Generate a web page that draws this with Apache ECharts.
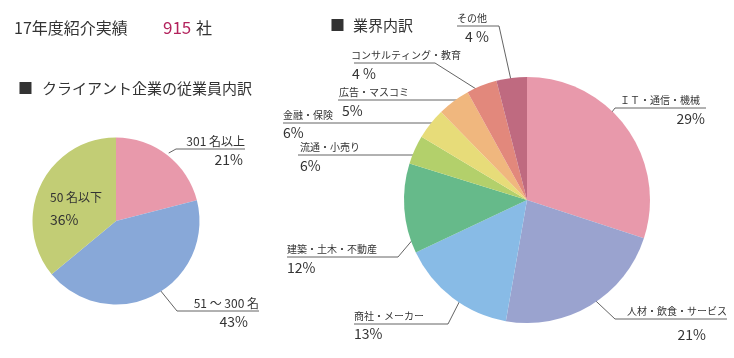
<!DOCTYPE html>
<html><head><meta charset="utf-8">
<script src="https://cdn.jsdelivr.net/npm/echarts@6/dist/echarts.min.js"></script>
<style>html,body{margin:0;padding:0;background:#fff}#c{width:734px;height:358px}</style>
</head><body><div id="c"></div>
<script>
// ---- data ----
const sizeCategories = ['301 名以上', '51 〜 300 名', '50 名以下'];
const sizeValues = [21, 43, 36];
const sizePctText = ['21%', '43%', '36%'];

const industryCategories = ['ＩＴ・通信・機械', '人材・飲食・サービス', '商社・メーカー', '建築・土木・不動産',
  '流通・小売り', '金融・保険', '広告・マスコミ', 'コンサルティング・教育', 'その他'];
const industryValues = [30.0, 22.7, 15.2, 11.8, 3.8, 4.1, 4.3, 4.0, 4.0];
const industryPctText = ['29%', '21%', '13%', '12%', '6%', '6%', '5%', '4 %', '4 %'];

const totalLabel = '17年度紹介実績';
const totalValue = '915';
const totalUnit = '社';
const sizeTitle = 'クライアント企業の従業員内訳';
const industryTitle = '業界内訳';

// ---- styles / layout ----
const FONT = '"Noto Sans CJK JP", "Noto Sans", sans-serif';
const TXT = '#333333';
const sizeColors = ['#E899AB', '#88A8D8', '#C2CD75'];
const industryColors = ['#E899AB', '#9AA3CF', '#88BBE6', '#66BA8A', '#B3D06B', '#E7DC79', '#F0B77E', '#E2887C', '#BF6A80'];
const sizeCenter = [116, 221], sizeRadius = 83.5;
const indCenter = [527, 200], indRadius = 123;
const NAME_LH = 15;

// ax: anchor x, uy: underline y, near/far: underline ends, k: leader start (fraction of radius), nameDx/pctDx: inset, pctDy: pct center below underline
const sizeLayout = [
  {ax: 245, uy: 149, align: 'right', near: 176, far: 245, k: 1.03, nameDx: 0, pctDx: 2, pctDy: 11},
  {ax: 259, uy: 311, align: 'right', near: 177, far: 259, k: 0.53, nameDx: 0, pctDx: 11, pctDy: 11},
  {ax: 50, uy: 204.5, align: 'left', near: null, k: null, nameDx: 0, pctDx: 0, pctDy: 15.5}
];
const indLayout = [
  {ax: 706, uy: 108, align: 'right', near: 615, far: 706, k: 0.41, nameDx: 6, pctDx: 1, pctDy: 10.5},
  {ax: 727, uy: 319, align: 'right', near: 615, far: 727, k: 0.79, nameDx: 0, pctDx: 21, pctDy: 16},
  {ax: 354, uy: 324, align: 'left', near: 448, far: 354, k: 0.64, nameDx: 0, pctDx: 0, pctDy: 10},
  {ax: 287, uy: 257, align: 'left', near: 398, far: 287, k: 0.70, nameDx: 0, pctDx: 0, pctDy: 11},
  {ax: 299, uy: 155, align: 'left', near: 433, far: 298, k: null, nameDx: 1, pctDx: 1, pctDy: 11},
  {ax: 283, uy: 123, align: 'left', near: 436, far: 283, k: null, nameDx: 0, pctDx: 0, pctDy: 10},
  {ax: 338, uy: 100, align: 'left', near: 461, far: 338, k: null, nameDx: 1, pctDx: 4, pctDy: 10.5},
  {ax: 351, uy: 63, align: 'left', near: 435, far: 354, k: 0.92, nameDx: 0, pctDx: 1, pctDy: 11},
  {ax: 457, uy: 26, align: 'left', near: 499, far: 457, k: 0.91, nameDx: 0, pctDx: 8, pctDy: 10.5}
];

function pad(align, dx) { return align === 'right' ? [0, dx, 0, 0] : [0, 0, 0, dx]; }
function buildRich(layouts, nameSize, pctSize) {
  const rich = {};
  layouts.forEach((L, i) => {
    rich['n' + i] = {fontSize: nameSize, lineHeight: NAME_LH, color: TXT, fontFamily: FONT, padding: pad(L.align, L.nameDx)};
    rich['p' + i] = {fontSize: pctSize, lineHeight: L.pctDy * 2, color: TXT, fontFamily: FONT, padding: pad(L.align, L.pctDx)};
  });
  return rich;
}
function makeLabelLayout(layouts, center) {
  return function (params) {
    const L = layouts[params.dataIndex];
    const res = {x: L.ax, y: L.uy - NAME_LH, align: L.align, verticalAlign: 'top'};
    if (L.near != null) {
      const pts = [];
      const lp = params.labelLinePoints;
      if (L.k != null && lp && lp[0]) {
        pts.push([center[0] + (lp[0][0] - center[0]) * L.k, center[1] + (lp[0][1] - center[1]) * L.k]);
      }
      pts.push([L.near, L.uy]);
      pts.push([L.far, L.uy]);
      res.labelLinePoints = pts;
    }
    return res;
  };
}
function pieSeries(cats, vals, pcts, colors, layouts, center, radius, nameSize, noLine) {
  return {
    type: 'pie', center: center, radius: radius, startAngle: 90, clockwise: true,
    avoidLabelOverlap: false, silent: true, animation: false,
    emphasis: {disabled: true},
    itemStyle: {borderWidth: 0},
    data: cats.map((n, i) => {
      const d = {name: n, value: vals[i], itemStyle: {color: colors[i]}};
      if (layouts[i].near == null) d.labelLine = {show: false};
      return d;
    }),
    label: {
      show: true, position: 'outside', width: 220, overflow: 'none', color: TXT, fontFamily: FONT,
      formatter: p => `{n${p.dataIndex}|${p.name}}\n{p${p.dataIndex}|${pcts[p.dataIndex]}}`,
      rich: buildRich(layouts, nameSize, 14)
    },
    labelLine: {show: true, length: 10, length2: 10, lineStyle: {color: '#3c3c3c', width: 0.8}},
    labelLayout: makeLabelLayout(layouts, center)
  };
}

const chart = echarts.init(document.getElementById('c'), null, {renderer: 'canvas'});
chart.setOption({
  backgroundColor: '#ffffff',
  animation: false,
  textStyle: {fontFamily: FONT},
  graphic: [
    {type: 'text', x: 14, y: 28, silent: true, style: {text: totalLabel, fontSize: 16, fill: TXT, fontFamily: FONT, verticalAlign: 'middle'}},
    {type: 'text', x: 163, y: 28, silent: true, style: {text: totalValue, fontSize: 17, fill: '#B3235D', fontFamily: FONT, verticalAlign: 'middle'}},
    {type: 'text', x: 196, y: 28, silent: true, style: {text: totalUnit, fontSize: 16, fill: TXT, fontFamily: FONT, verticalAlign: 'middle'}},
    {type: 'text', x: 18, y: 88.5, silent: true, style: {text: '■', fontSize: 15, fill: '#333', fontFamily: FONT, verticalAlign: 'middle'}},
    {type: 'text', x: 42, y: 88.5, silent: true, style: {text: sizeTitle, fontSize: 15, fill: TXT, fontFamily: FONT, verticalAlign: 'middle'}},
    {type: 'text', x: 330, y: 25.5, silent: true, style: {text: '■', fontSize: 15, fill: '#333', fontFamily: FONT, verticalAlign: 'middle'}},
    {type: 'text', x: 353, y: 25.5, silent: true, style: {text: industryTitle, fontSize: 15, fill: TXT, fontFamily: FONT, verticalAlign: 'middle'}}
  ],
  series: [
    pieSeries(sizeCategories, sizeValues, sizePctText, sizeColors, sizeLayout, sizeCenter, sizeRadius, 12),
    pieSeries(industryCategories, industryValues, industryPctText, industryColors, indLayout, indCenter, indRadius, 10)
  ]
});
</script>
</body></html>
